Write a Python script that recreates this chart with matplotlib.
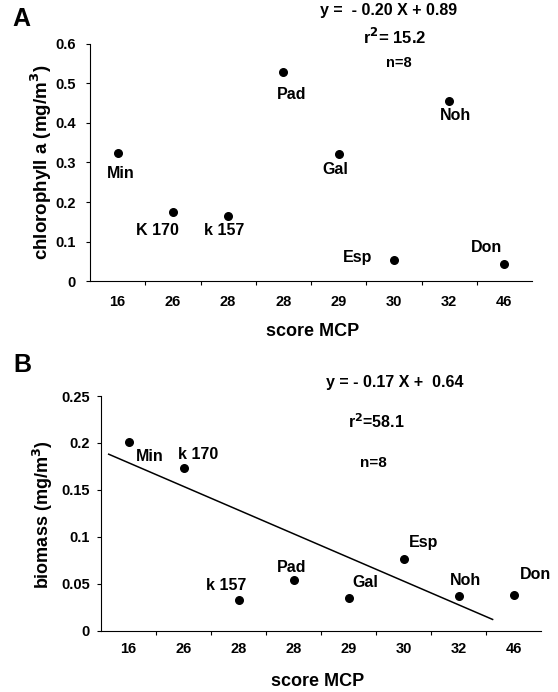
import matplotlib
matplotlib.use("Agg")
import matplotlib.pyplot as plt

plt.rcParams['font.family'] = ['Liberation Sans', 'DejaVu Sans']
plt.rcParams['font.weight'] = 'bold'

# category axis: MCP scores
mcp_scores = ['16', '26', '28', '28', '29', '30', '32', '46']

# panel A: chlorophyll a
sites_a = ['Min', 'K 170', 'k 157', 'Pad', 'Gal', 'Esp', 'Noh', 'Don']
chl_a = [0.325, 0.175, 0.165, 0.528, 0.322, 0.055, 0.455, 0.045]
# label offsets in pixels (dx, dy)
off_a = [(3, -21), (-15, -18), (-4, -14), (8, -22), (-3, -16), (-36, 2), (6, -14), (-18, 16)]

# panel B: biomass
sites_b = ['Min', 'k 170', 'k 157', 'Pad', 'Gal', 'Esp', 'Noh', 'Don']
biomass = [0.201, 0.173, 0.033, 0.054, 0.035, 0.076, 0.037, 0.038]
off_b = [(21, -14), (15, 14), (-12, 14), (-2, 13), (17, 15), (20, 17), (7, 15), (22, 21)]

# regression line in panel B (category units)
fit_x = [-0.36, 6.62]
fit_y = [0.188, 0.012]

W, H = 558, 692
fig = plt.figure(figsize=(5.58, 6.92), dpi=100)
ax_a = fig.add_axes([90 / W, 1 - 281.5 / H, 442 / W, 238 / H])
ax_b = fig.add_axes([101 / W, 1 - 630.7 / H, 440 / W, 234.7 / H])

xs = list(range(len(mcp_scores)))


def style(ax, xpad, ypad):
    for s in ['top', 'right']:
        ax.spines[s].set_visible(False)
    ax.spines['left'].set_linewidth(0.8)
    ax.spines['bottom'].set_linewidth(0.8)
    ax.set_xlim(-0.5, len(mcp_scores) - 0.5)
    ax.set_xticks(xs)
    ax.set_xticklabels(mcp_scores, fontsize=10.5, fontweight='bold')
    ax.set_xticks([i + 0.5 for i in xs[:-1]], minor=True)
    ax.tick_params(axis='x', which='major', length=0, pad=xpad)
    ax.tick_params(axis='x', which='minor', length=3, width=0.8, direction='out')
    ax.tick_params(axis='y', length=3, width=0.8, labelsize=10.5, pad=ypad)


def txt(x, y, s, size, **kw):
    fig.text(x / W, 1 - y / H, s, fontsize=size, fontweight='bold',
             ha='center', va='center', **kw)


# panel A
ax_a.scatter(xs, chl_a, s=30, color='black', zorder=3)
for x, y, name, (dx, dy) in zip(xs, chl_a, sites_a, off_a):
    ax_a.annotate(name, (x, y), xytext=(dx, dy), textcoords='offset pixels',
                  ha='center', va='center', fontsize=11.5, fontweight='bold')
style(ax_a, 10, 7)
ax_a.set_ylim(0, 0.6)
ax_a.set_yticks([0, 0.1, 0.2, 0.3, 0.4, 0.5, 0.6])
ax_a.set_yticklabels(['0', '0.1', '0.2', '0.3', '0.4', '0.5', '0.6'])

txt(41, 162, 'chlorophyll a (mg/m$^{\\mathbf{3}}$)', 13.5, rotation=90)
txt(313, 332, 'score MCP', 13)
txt(21, 19, 'A', 18)
txt(389, 10, 'y =  - 0.20 X + 0.89', 11.5)
txt(395, 37, 'r$^{\\mathbf{2}}$= 15.2', 12)
txt(399, 63, 'n=8', 10.5)

# panel B
ax_b.scatter(xs, biomass, s=30, color='black', zorder=3)
ax_b.plot(fit_x, fit_y, color='black', lw=1.1)
for x, y, name, (dx, dy) in zip(xs, biomass, sites_b, off_b):
    ax_b.annotate(name, (x, y), xytext=(dx, dy), textcoords='offset pixels',
                  ha='center', va='center', fontsize=11.5, fontweight='bold')
style(ax_b, 8, 5)
ax_b.set_ylim(0, 0.25)
ax_b.set_yticks([0, 0.05, 0.1, 0.15, 0.2, 0.25])
ax_b.set_yticklabels(['0', '0.05', '0.1', '0.15', '0.2', '0.25'])

txt(43, 515, 'biomass (mg/m$^{\\mathbf{3}}$)', 13, rotation=90)
txt(318, 682, 'score MCP', 13)
txt(22, 365, 'B', 18)
txt(395, 383, 'y = - 0.17 X +  0.64', 11.5)
txt(376, 422, 'r$^{\\mathbf{2}}$=58.1', 11.5)
txt(373, 463, 'n=8', 11)

fig.savefig('out.png', dpi=100)
